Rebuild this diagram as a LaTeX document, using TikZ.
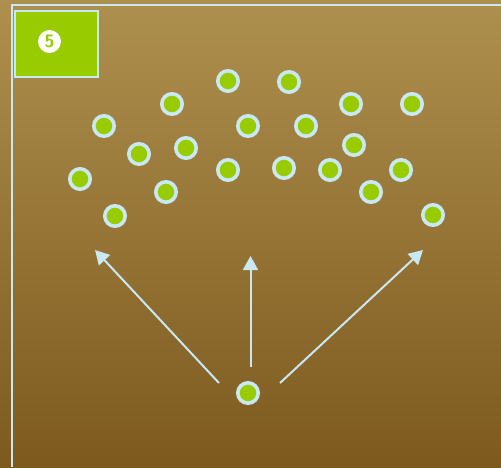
\documentclass[tikz,border=0pt]{standalone}
\usetikzlibrary{arrows.meta}
\definecolor{bgtop}{RGB}{174,144,78}
\definecolor{bgbot}{RGB}{125,89,30}
\definecolor{lblue}{RGB}{200,232,244}
\definecolor{lgreen}{RGB}{153,204,0}
\begin{document}
\begin{tikzpicture}[x=1pt,y=-1pt,
  player/.style={circle,draw=lblue,line width=3.6pt,fill=lgreen,minimum size=20.4pt,inner sep=0pt},
  runarrow/.style={draw=lblue,line width=2pt,-{Triangle[length=14pt,width=15pt]}}]
\shade[top color=bgtop,bottom color=bgbot] (0,0) rectangle (501,467);
\useasboundingbox (0,0) rectangle (501,467);
\draw[lblue,line width=2pt] (12,467) -- (12,5) -- (501,5);
\node[draw=lblue,line width=1.5pt,fill=lgreen,minimum width=83pt,minimum height=66pt,inner sep=0pt] (badge) at (56.5,44) {};
\node[circle,fill=white,minimum size=23pt,inner sep=0pt,text=lgreen,font=\sffamily\bfseries\fontsize{18}{18}\selectfont] (num) at (49.5,41.5) {5};
% players
\node[player] (p1) at (228,81) {};
\node[player] (p2) at (289,82) {};
\node[player] (p3) at (172,104) {};
\node[player] (p4) at (351,104) {};
\node[player] (p5) at (412,104) {};
\node[player] (p6) at (104,126) {};
\node[player] (p7) at (248,126) {};
\node[player] (p8) at (306,126) {};
\node[player] (p9) at (139,154) {};
\node[player] (p10) at (186,148) {};
\node[player] (p11) at (354,145) {};
\node[player] (p12) at (80,179) {};
\node[player] (p13) at (228,170) {};
\node[player] (p14) at (284,168) {};
\node[player] (p15) at (330,170) {};
\node[player] (p16) at (401,170) {};
\node[player] (p17) at (166,192) {};
\node[player] (p18) at (371,192) {};
\node[player] (p19) at (115,216) {};
\node[player] (p20) at (433,215) {};
\node[player] (src) at (248,393) {};
% arrows
\coordinate (sl) at (219,383);
\coordinate (tl) at (95,250);
\coordinate (sm) at (250.5,367);
\coordinate (tm) at (250.5,256);
\coordinate (sr) at (280,383);
\coordinate (tr) at (423,250);
\draw[runarrow] (sl) -- (tl);
\draw[runarrow] (sm) -- (tm);
\draw[runarrow] (sr) -- (tr);
\end{tikzpicture}
\end{document}
